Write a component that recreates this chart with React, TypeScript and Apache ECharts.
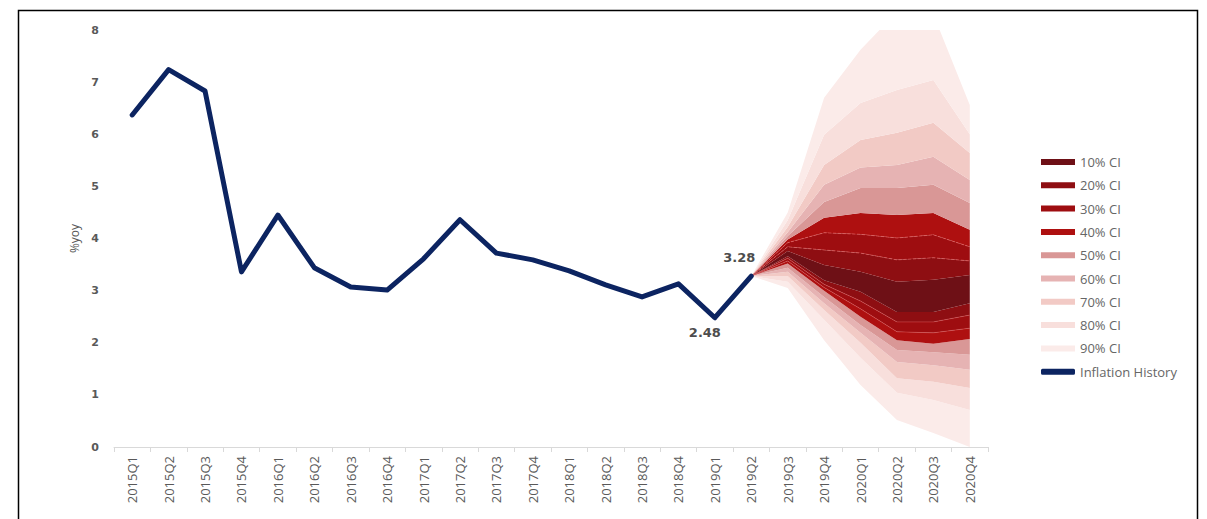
import React, { useEffect, useRef } from "react";
import * as echarts from "echarts";

const categories = [
  "2015Q1", "2015Q2", "2015Q3", "2015Q4",
  "2016Q1", "2016Q2", "2016Q3", "2016Q4",
  "2017Q1", "2017Q2", "2017Q3", "2017Q4",
  "2018Q1", "2018Q2", "2018Q3", "2018Q4",
  "2019Q1", "2019Q2", "2019Q3", "2019Q4",
  "2020Q1", "2020Q2", "2020Q3", "2020Q4",
];

const history = [6.37, 7.24, 6.83, 3.36, 4.45, 3.44, 3.07, 3.01, 3.61, 4.36, 3.72, 3.59, 3.38, 3.11, 2.88, 3.13, 2.48, 3.28];

// Fan bounds from 2019Q2 to 2020Q4
const fanStart = 17;
const lower90 = [3.28, 3.05, 2.05, 1.19, 0.52, 0.27, 0.0];
const lower80 = [3.28, 3.17, 2.44, 1.71, 1.04, 0.9, 0.71];
const lower70 = [3.28, 3.28, 2.63, 2.0, 1.32, 1.25, 1.13];
const lower60 = [3.28, 3.36, 2.76, 2.19, 1.63, 1.57, 1.48];
const lower50 = [3.28, 3.44, 2.88, 2.34, 1.86, 1.82, 1.77];
const lower40 = [3.28, 3.52, 3.0, 2.5, 2.05, 1.98, 2.07];
const lower30 = [3.28, 3.57, 3.06, 2.65, 2.21, 2.19, 2.28];
const lower20 = [3.28, 3.62, 3.12, 2.8, 2.4, 2.4, 2.53];
const lower10 = [3.28, 3.66, 3.2, 2.98, 2.59, 2.59, 2.76];
const upper10 = [3.28, 3.76, 3.49, 3.36, 3.17, 3.21, 3.3];
const upper20 = [3.28, 3.84, 3.78, 3.72, 3.59, 3.63, 3.57];
const upper30 = [3.28, 3.92, 4.11, 4.08, 4.01, 4.07, 3.84];
const upper40 = [3.28, 3.98, 4.4, 4.49, 4.45, 4.49, 4.17];
const upper50 = [3.28, 4.05, 4.7, 4.97, 4.97, 5.03, 4.68];
const upper60 = [3.28, 4.12, 5.03, 5.36, 5.41, 5.57, 5.12];
const upper70 = [3.28, 4.22, 5.41, 5.89, 6.03, 6.22, 5.64];
const upper80 = [3.28, 4.35, 5.99, 6.6, 6.85, 7.04, 6.0];
const upper90 = [3.28, 4.5, 6.7, 7.62, 8.35, 8.3, 6.56];

const ciNames = ["10% CI", "20% CI", "30% CI", "40% CI", "50% CI", "60% CI", "70% CI", "80% CI", "90% CI"];
const ciColors = ["#6e1016", "#8e0e12", "#9e0d10", "#ae1010", "#d99796", "#e6b3b3", "#f2cac5", "#f8dfdc", "#fbebe9"];

const yTicks = [0, 1, 2, 3, 4, 5, 6, 7, 8];

export default function App() {
  const ref = useRef<HTMLDivElement>(null);

  useEffect(() => {
    document.body.style.margin = "0";
    if (!ref.current) return;
    const chart = echarts.init(ref.current, null, { renderer: "svg" });

    const bounds = [
      lower90, lower80, lower70, lower60, lower50, lower40, lower30, lower20, lower10,
      upper10, upper20, upper30, upper40, upper50, upper60, upper70, upper80, upper90,
    ];
    const pad = (arr: (number | string)[]) => {
      const out: (number | string)[] = [];
      for (let i = 0; i < fanStart; i++) out.push("-");
      return out.concat(arr);
    };

    const fanSeries: any[] = [];
    fanSeries.push({
      name: "base",
      type: "line",
      stack: "fan",
      data: pad(lower90),
      symbol: "none",
      lineStyle: { width: 0 },
      silent: true,
      z: 1,
    });
    for (let i = 1; i < bounds.length; i++) {
      let ci: number;
      if (i <= 8) ci = 9 - i;
      else ci = i - 9;
      const diff = bounds[i].map((v, k) => Math.round((v - bounds[i - 1][k]) * 100) / 100);
      let lineStyle: any = { width: 0 };
      if (i === 10 || i === 11) lineStyle = { width: 0.8, type: "dashed", color: "rgba(235,110,110,0.75)" };
      if (i === 6 || i === 7) lineStyle = { width: 0.8, color: "rgba(230,100,100,0.55)" };
      fanSeries.push({
        name: ciNames[ci],
        type: "line",
        stack: "fan",
        data: pad(diff),
        symbol: "none",
        showSymbol: false,
        itemStyle: { color: ciColors[ci] },
        lineStyle,
        areaStyle: { color: ciColors[ci], opacity: 1 },
        silent: true,
        z: 1,
      });
    }

    const labelStyle = {
      fontWeight: "bold" as const,
      fontSize: 13,
      color: "#4d4d4d",
      fontFamily: "DejaVu Sans",
    };
    const historyData: any[] = history.map((v, i) => {
      if (i === 17) {
        return { value: v, label: { show: true, position: "top", distance: 12, offset: [-12, 0], formatter: String(v), ...labelStyle } };
      }
      if (i === 16) {
        return { value: v, label: { show: true, position: "bottom", distance: 8, offset: [-10, 0], formatter: String(v), ...labelStyle } };
      }
      return v;
    });

    chart.setOption({
      animation: false,
      backgroundColor: "#ffffff",
      graphic: [
        {
          type: "rect",
          shape: { x: 18.5, y: 10.5, width: 1179, height: 530 },
          style: { fill: "none", stroke: "#000000", lineWidth: 1.5 },
          z: 100,
          silent: true,
        },
      ],
      grid: { left: 114, right: 219, top: 30, bottom: 72 },
      legend: {
        orient: "vertical",
        left: 1036,
        top: 150,
        itemWidth: 34,
        itemHeight: 6,
        itemGap: 9.3,
        selectedMode: false,
        itemStyle: { borderWidth: 0 },
        textStyle: { fontSize: 13, lineHeight: 14, color: "#666666", fontFamily: "Open Sans" },
        data: [
          ...ciNames.map((n) => ({ name: n, icon: "rect" })),
          { name: "Inflation History", icon: "roundRect", itemStyle: { color: "#0c2461" } },
        ],
      },
      xAxis: {
        type: "category",
        data: categories,
        boundaryGap: true,
        axisLine: { lineStyle: { color: "#d9d9d9", width: 1 } },
        axisTick: { show: true, length: 5, lineStyle: { color: "#d9d9d9" } },
        axisLabel: {
          rotate: 90,
          margin: 9,
          fontSize: 13,
          color: "#595959",
          fontFamily: "Open Sans",
          interval: 0,
        },
        splitLine: { show: false },
      },
      yAxis: {
        type: "value",
        min: yTicks[0],
        max: yTicks[yTicks.length - 1],
        interval: 1,
        name: "%yoy",
        nameLocation: "middle",
        nameGap: 32,
        nameTextStyle: { fontSize: 12, color: "#595959", fontFamily: "Open Sans" },
        axisLine: { show: false },
        axisTick: { show: false },
        splitLine: { show: false },
        axisLabel: {
          margin: 15,
          fontSize: 11,
          fontWeight: "bold",
          color: "#595959",
          fontFamily: "DejaVu Sans",
        },
      },
      series: [
        ...fanSeries,
        {
          name: "Inflation History",
          type: "line",
          data: historyData,
          symbol: "circle",
          symbolSize: 0.5,
          showSymbol: true,
          itemStyle: { color: "#0c2461" },
          lineStyle: { color: "#0c2461", width: 5, cap: "round", join: "round" },
          z: 5,
        },
      ],
    });

    return () => chart.dispose();
  }, []);

  return <div ref={ref} style={{ width: 1207, height: 519 }} />;
}
